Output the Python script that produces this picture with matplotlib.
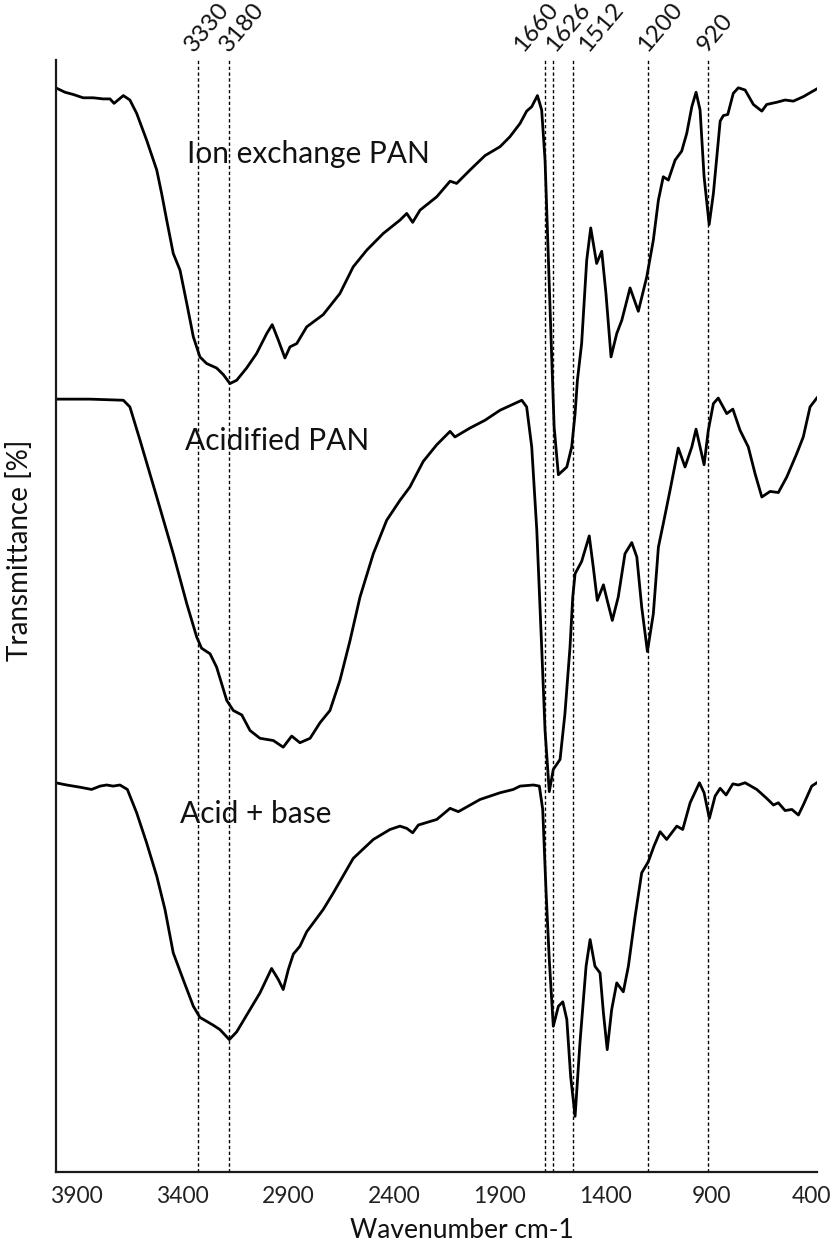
import matplotlib.pyplot as plt
import matplotlib.transforms as mtransforms

plt.rcParams['font.family'] = ['Lato', 'DejaVu Sans']

# Ion exchange PAN (top spectrum)
ion_wn = [4000, 3956, 3917, 3870, 3822, 3775, 3743, 3724, 3680, 3649, 3617, 3570,
          3522, 3499, 3475, 3444, 3412, 3380, 3349, 3318, 3286, 3239, 3207, 3176,
          3144, 3097, 3050, 3002, 2976, 2947, 2916, 2892, 2860, 2813, 2735, 2656,
          2593, 2529, 2451, 2372, 2340, 2312, 2277, 2198, 2135, 2104, 2041, 1970,
          1899, 1852, 1804, 1773, 1749, 1722, 1702, 1686, 1670, 1654, 1643, 1623,
          1583, 1560, 1544, 1533, 1513, 1489, 1470, 1442, 1418, 1398, 1374, 1347,
          1323, 1284, 1245, 1205, 1174, 1150, 1127, 1103, 1071, 1040, 1016, 992,
          972, 953, 934, 910, 890, 858, 843, 822, 796, 772, 740, 701, 661, 638,
          590, 551, 512, 465, 401]
ion_t = [97.5, 97.1, 96.9, 96.6, 96.6, 96.5, 96.5, 96.1, 96.8, 96.4, 95.2, 92.8,
         90.1, 88.0, 85.6, 82.6, 81.1, 78.1, 75.1, 73.3, 72.7, 72.3, 71.7, 70.9,
         71.2, 72.3, 73.6, 75.4, 76.2, 74.8, 73.2, 74.2, 74.5, 76.0, 77.1, 79.0,
         81.4, 82.9, 84.4, 85.6, 86.2, 85.4, 86.5, 87.7, 89.1, 88.9, 90.1, 91.4,
         92.2, 93.1, 94.3, 95.4, 95.8, 96.8, 95.5, 91.0, 82.0, 73.0, 67.0, 62.7,
         63.4, 65.2, 68.2, 71.2, 74.5, 82.0, 84.9, 81.7, 82.8, 79.0, 73.3, 75.4,
         76.6, 79.5, 77.4, 80.5, 83.8, 87.4, 89.5, 89.2, 91.0, 91.8, 93.4, 95.8,
         97.1, 95.5, 89.5, 85.2, 88.0, 94.5, 95.0, 95.1, 97.0, 97.5, 97.3, 96.0,
         95.4, 96.0, 96.2, 96.4, 96.3, 96.7, 97.4]

# Acidified PAN (middle spectrum)
acid_wn = [4000, 3838, 3680, 3649, 3601, 3522, 3444, 3380, 3333, 3310, 3270, 3239,
           3191, 3160, 3120, 3081, 3034, 2971, 2924, 2884, 2845, 2797, 2750, 2703,
           2656, 2608, 2561, 2498, 2435, 2372, 2325, 2262, 2198, 2135, 2112, 2041,
           1970, 1899, 1796, 1773, 1749, 1725, 1702, 1686, 1666, 1647, 1615, 1592,
           1568, 1555, 1544, 1513, 1477, 1458, 1439, 1410, 1392, 1368, 1340, 1308,
           1276, 1252, 1229, 1202, 1174, 1150, 1127, 1095, 1056, 1024, 992, 972,
           953, 934, 914, 890, 867, 827, 798, 764, 725, 693, 661, 622, 583, 543,
           496, 465, 433, 401]
acid_t = [69.5, 69.5, 69.4, 68.8, 65.8, 60.7, 55.6, 51.1, 48.1, 47.1, 46.6, 45.4,
          42.4, 41.5, 41.1, 39.7, 39.0, 38.8, 38.2, 39.2, 38.6, 39.0, 40.4, 41.5,
          44.2, 47.8, 51.7, 55.6, 58.6, 60.4, 61.6, 63.9, 65.4, 66.6, 66.1, 66.9,
          67.6, 68.5, 69.4, 68.8, 65.2, 57.7, 47.2, 39.7, 34.2, 36.2, 37.1, 41.2,
          47.2, 51.7, 53.8, 54.9, 57.2, 54.4, 51.4, 52.8, 51.4, 49.6, 51.7, 55.6,
          56.6, 55.3, 50.8, 46.8, 50.2, 56.2, 58.3, 61.3, 65.1, 63.4, 65.2, 66.8,
          65.2, 63.6, 66.7, 69.1, 69.6, 68.2, 68.6, 66.7, 65.2, 62.8, 60.7, 61.2,
          61.1, 62.5, 64.6, 66.1, 68.8, 69.6]

# Acid + base (bottom spectrum)
ab_wn = [4000, 3948, 3885, 3830, 3790, 3759, 3728, 3696, 3661, 3617, 3570, 3522,
         3483, 3444, 3397, 3349, 3318, 3255, 3223, 3179, 3144, 3097, 3034, 2979,
         2947, 2924, 2900, 2876, 2845, 2813, 2735, 2687, 2593, 2498, 2419, 2372,
         2340, 2312, 2285, 2198, 2135, 2096, 1993, 1899, 1836, 1804, 1741, 1713,
         1697, 1681, 1666, 1647, 1623, 1602, 1583, 1565, 1544, 1521, 1492, 1473,
         1450, 1426, 1410, 1392, 1371, 1347, 1316, 1292, 1260, 1229, 1198, 1171,
         1142, 1111, 1063, 1035, 1000, 956, 934, 909, 882, 858, 830, 798, 772,
         740, 685, 638, 606, 583, 551, 519, 488, 465, 425, 401]
ab_t = [35.0, 34.8, 34.6, 34.4, 34.7, 34.8, 34.7, 34.8, 34.4, 32.3, 29.6, 26.6,
        23.6, 19.7, 17.3, 14.9, 13.9, 13.2, 12.8, 11.9, 12.6, 14.1, 16.1, 18.3,
        17.3, 16.4, 18.2, 19.6, 20.3, 21.6, 23.6, 25.1, 28.2, 29.9, 30.8, 31.1,
        30.9, 30.5, 31.2, 31.7, 32.7, 32.4, 33.5, 34.1, 34.4, 34.7, 34.8, 34.7,
        32.6, 25.1, 19.1, 13.1, 14.9, 15.3, 13.7, 8.6, 5.0, 11.6, 18.5, 20.9,
        18.5, 17.9, 14.3, 11.0, 14.6, 17.0, 16.2, 18.5, 23.0, 26.9, 27.9, 29.3,
        30.6, 29.9, 31.1, 30.8, 33.2, 35.0, 34.1, 31.8, 33.8, 34.5, 33.9, 34.9,
        34.8, 35.0, 34.4, 33.6, 33.0, 33.2, 32.5, 32.6, 32.1, 33.0, 34.7, 35.0]

# marked bands: label text, where the dashed line sits, where the label starts
peak_labels = ['3330', '3180', '1660', '1626', '1512', '1200', '920']
peak_lines = [3325, 3180, 1686, 1650, 1552, 1200, 914]
peak_label_x = [3345, 3180, 1790, 1639, 1483, 1205, 920]

series_names = ['Ion exchange PAN', 'Acidified PAN', 'Acid + base']
name_x = [3380, 3389, 3412]
name_y = [90.7, 64.9, 31.4]

fig = plt.figure(figsize=(8.32, 12.42), dpi=100)
ax = fig.add_axes([0.0669, 0.0564, 0.9151, 0.8953])

for wn, t in [(ion_wn, ion_t), (acid_wn, acid_t), (ab_wn, ab_t)]:
    ax.plot(wn, t, color='black', lw=2.0, solid_joinstyle='round')

for xp in peak_lines:
    ax.axvline(xp, color='black', lw=1.0, dashes=(2.4, 1.8))

trans = ax.get_xaxis_transform()
for lab, xp in zip(peak_labels, peak_label_x):
    ax.text(xp, 1.006, lab, transform=trans, rotation=50, rotation_mode='anchor',
            ha='left', va='baseline', fontsize=17.5, color='#111111')

for name, xp, yp in zip(series_names, name_x, name_y):
    ax.text(xp, yp, name, ha='left', va='baseline', fontsize=21.5, color='#111111')

ax.set_xlim(4000, 400)
ax.set_ylim(0, 100)
ax.set_xticks([3900, 3400, 2900, 2400, 1900, 1400, 900, 400])
ax.set_yticks([])
ax.tick_params(axis='x', length=0, pad=10, labelsize=16.5, labelcolor='#222222')

# keep the last tick label inside the figure edge
last = ax.get_xticklabels()[-1]
last.set_transform(last.get_transform() +
                   mtransforms.ScaledTranslation(-6 / 100, 0, fig.dpi_scale_trans))

for side in ['top', 'right']:
    ax.spines[side].set_visible(False)
for side in ['left', 'bottom']:
    ax.spines[side].set_linewidth(1.6)
    ax.spines[side].set_color('#1a1a1a')

ax.set_xlabel('Wavenumber cm-1', fontsize=19, color='#111111')
ax.set_ylabel('Transmittance [%]', fontsize=20, color='#111111')
ax.xaxis.set_label_coords(0.534, -0.041)
ax.yaxis.set_label_coords(-0.030, 0.559)

fig.savefig('out.png', dpi=100)
